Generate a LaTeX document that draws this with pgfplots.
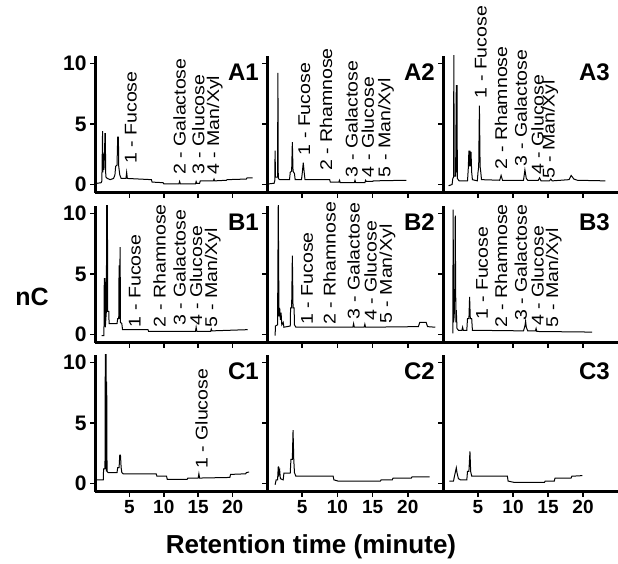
\documentclass[border=0pt]{standalone}
\usepackage{fontspec}
\setmainfont{Liberation Sans}
\usepackage{graphicx}
\usepackage{pgfplots}
\pgfplotsset{compat=1.18}

\newcommand{\labfont}{\fontsize{17}{17}\selectfont}
\newcommand{\pfont}{\fontsize{24}{24}\selectfont\bfseries}

\pgfplotsset{
  panel/.style={
    scale only axis, height=137pt,
    xmin=0, xmax=25, ymin=-0.7, ymax=10.6,
    axis x line*=bottom, axis y line*=left,
    axis line style={line width=3pt, black},
    xtick={5,10,15,20}, ytick={0,5,10},
    xticklabels={}, yticklabels={},
    tick align=outside, major tick length=5pt,
    tick style={line width=1.5pt, black},
    x tick label style={font=\fontsize{19}{19}\selectfont\bfseries},
    y tick label style={font=\fontsize{21}{21}\selectfont\bfseries},
    clip mode=individual, anchor=south west,
  },
  leftcol/.style={yticklabels={0,5,10}},
  botrow/.style={xticklabels={5,10,15,20}},
  trace/.style={black, line width=1pt, no marks, sharp plot},
}
% rotated peak label, starting at the peak
\newcommand{\pk}[3]{\node[rotate=90, anchor=west, inner sep=0pt, font=\labfont] at (axis cs:#1,#2) {\scalebox{1.15}[1]{#3}};}
\newcommand{\pname}[1]{\node[anchor=north east, inner sep=0pt, font=\pfont, xshift=-8pt, yshift=-8pt] at (rel axis cs:1,1) {#1};}

\begin{document}
\begin{tikzpicture}
\useasboundingbox (0,0) rectangle (618pt,564pt);

% ---------- row A ----------
\begin{axis}[panel, leftcol, width=172pt, at={(95pt,371pt)}]
\addplot[trace] coordinates {(0.3,0.1)(0.9,0.15)(1.0,0.3)(1.1,4.4)(1.15,1.0)(1.25,2.5)(1.3,1.2)(1.4,3.0)(1.45,4.2)(1.5,4.2)(1.55,1.0)(1.6,0.6)(1.8,0.5)(2.2,0.4)(2.7,0.5)(2.9,0.8)(3.0,1.5)(3.2,1.6)(3.3,3.9)(3.4,3.9)(3.45,1.5)(3.6,0.8)(3.8,0.5)(4.5,0.5)(4.6,1.0)(4.7,0.5)(8.2,0.4)(8.3,0.2)(9.9,0.15)(10.0,0.05)(12.2,0.05)(12.3,0.25)(12.4,0.05)(14.6,0.05)(14.7,0.25)(14.8,0.1)(15.2,0.1)(15.3,0.3)(17.2,0.3)(17.3,0.45)(17.4,0.3)(19.1,0.35)(19.2,0.4)(22.0,0.45)(22.1,0.55)(22.9,0.55)};
\pk{5.2}{1.7}{1 - Fucose}
\pk{12.3}{0.8}{2 - Galactose}
\pk{15.0}{0.8}{3 - Glucose}
\pk{17.4}{0.8}{4 - Man/Xyl}
\pname{A1}
\end{axis}

\begin{axis}[panel, width=176pt, at={(267pt,371pt)}]
\addplot[trace] coordinates {(0.2,0.05)(1.0,0.1)(1.1,0.3)(1.15,2.8)(1.2,0.6)(1.5,0.6)(1.55,9.2)(1.6,0.5)(1.8,0.4)(3.2,0.4)(3.3,1.0)(3.5,1.1)(3.6,3.5)(3.7,1.1)(3.9,0.9)(4.0,0.4)(4.9,0.4)(5.0,0.9)(5.15,1.8)(5.3,0.9)(5.4,0.4)(8.9,0.4)(9.0,0.2)(10.2,0.2)(10.3,0.35)(10.4,0.15)(12.4,0.15)(12.5,0.35)(12.6,0.15)(13.9,0.15)(14.0,0.35)(14.1,0.25)(15.0,0.25)(15.1,0.3)(19.8,0.35)};
\pk{5.3}{2.4}{1 - Fucose}
\pk{8.4}{1.1}{2 - Rhamnose}
\pk{12.0}{0.6}{3 - Galactose}
\pk{14.3}{0.6}{4 - Glucose}
\pk{16.9}{0.6}{5 - Man/Xyl}
\pname{A2}
\end{axis}

\begin{axis}[panel, width=175pt, at={(443pt,371pt)}]
\addplot[trace] coordinates {(0.8,-0.1)(1.3,0.0)(1.4,0.5)(1.5,0.6)(1.55,10.8)(1.6,0.7)(1.8,0.7)(1.9,8.2)(1.95,1.0)(2.0,8.2)(2.05,0.5)(2.3,0.3)(3.5,0.3)(3.6,1.2)(3.7,2.8)(3.75,1.5)(3.85,2.8)(3.9,1.5)(4.0,2.7)(4.1,1.0)(4.2,0.4)(4.9,0.3)(5.0,1.0)(5.1,1.5)(5.2,6.5)(5.3,1.5)(5.4,1.0)(5.5,0.4)(8.1,0.35)(8.3,0.75)(8.5,0.35)(11.5,0.35)(11.7,1.2)(11.9,0.5)(12.1,0.35)(13.6,0.35)(13.8,0.55)(14.0,0.3)(15.2,0.3)(15.4,0.45)(15.6,0.3)(18.0,0.4)(18.3,0.75)(18.7,0.45)(19.2,0.35)(23.2,0.3)};
\pk{5.4}{7.1}{1 - Fucose}
\pk{8.3}{1.25}{2 - Rhamnose}
\pk{11.1}{1.5}{3 - Galactose}
\pk{13.5}{0.8}{4 - Glucose}
\pk{15.3}{0.45}{5 - Man/Xyl}
\pname{A3}
\end{axis}

% ---------- row B ----------
\begin{axis}[panel, leftcol, width=172pt, at={(95pt,221pt)}]
\addplot[trace] coordinates {(0.95,-0.1)(1.3,-0.1)(1.35,4.6)(1.45,4.6)(1.5,0.6)(1.65,1.9)(1.7,10.8)(1.75,1.9)(1.8,10.8)(1.85,1.9)(2.0,1.9)(2.05,0.9)(3.2,0.9)(3.3,1.3)(3.45,1.3)(3.5,5.7)(3.55,1.3)(3.65,7.2)(3.7,1.0)(3.9,0.9)(4.0,0.4)(7.7,0.4)(7.8,0.25)(14.6,0.25)(14.7,0.6)(14.8,0.25)(16.8,0.25)(16.9,0.45)(17.0,0.3)(22.2,0.4)};
\pk{5.8}{0.6}{1 - Fucose}
\pk{9.4}{0.6}{2 - Rhamnose}
\pk{12.3}{0.7}{3 - Galactose}
\pk{14.7}{0.7}{4 - Glucose}
\pk{17.1}{0.6}{5 - Man/Xyl}
\pname{B1}
\end{axis}

\begin{axis}[panel, width=176pt, at={(267pt,221pt)}]
\addplot[trace] coordinates {(1.15,-0.1)(1.2,0.7)(1.5,0.8)(1.6,10.8)(1.7,1.5)(1.8,2.2)(1.9,1.2)(2.0,1.8)(2.1,0.8)(2.3,1.0)(2.4,0.6)(3.3,0.7)(3.35,2.2)(3.5,2.2)(3.6,6.5)(3.7,2.2)(3.85,2.2)(3.9,0.8)(4.1,0.6)(12.2,0.6)(12.3,0.9)(12.4,0.6)(13.8,0.6)(13.9,0.85)(14.0,0.6)(21.5,0.65)(21.7,1.0)(22.6,1.0)(22.8,0.65)(23.9,0.6)};
\pk{5.7}{0.8}{1 - Fucose}
\pk{8.9}{0.8}{2 - Rhamnose}
\pk{12.3}{1.25}{3 - Galactose}
\pk{14.7}{1.1}{4 - Glucose}
\pk{17.1}{0.9}{5 - Man/Xyl}
\pname{B2}
\end{axis}

\begin{axis}[panel, width=175pt, at={(443pt,221pt)}]
\addplot[trace] coordinates {(1.4,0.1)(1.45,10.3)(1.5,1.0)(1.6,1.5)(1.7,4.4)(1.75,9.8)(1.8,4.4)(1.85,1.0)(1.9,2.0)(2.0,0.5)(2.2,0.35)(2.7,0.35)(2.8,0.6)(2.9,0.35)(3.4,0.35)(3.5,1.3)(3.7,1.3)(3.8,3.1)(3.9,1.3)(4.1,1.3)(4.2,0.35)(11.5,0.3)(11.7,0.7)(11.8,1.1)(11.9,0.6)(12.1,0.3)(13.2,0.3)(13.3,0.5)(13.4,0.25)(21.3,0.2)};
\pk{5.6}{1.25}{1 - Fucose}
\pk{8.3}{0.6}{2 - Rhamnose}
\pk{11.1}{1.1}{3 - Galactose}
\pk{13.5}{0.7}{4 - Glucose}
\pk{15.8}{0.6}{5 - Man/Xyl}
\pname{B3}
\end{axis}

% ---------- row C ----------
\begin{axis}[panel, leftcol, botrow, width=172pt, at={(95pt,72pt)}]
\addplot[trace] coordinates {(0.25,0.3)(1.2,0.3)(1.25,1.2)(1.45,1.2)(1.5,10.8)(1.55,1.2)(1.6,10.8)(1.65,1.0)(1.7,8.4)(1.75,1.0)(1.9,0.9)(3.2,0.9)(3.3,1.3)(3.5,1.3)(3.6,2.35)(3.7,2.35)(3.8,1.3)(3.9,0.9)(4.1,0.8)(8.9,0.8)(9.0,0.6)(10.4,0.6)(10.5,0.35)(13.4,0.35)(13.5,0.45)(15.0,0.45)(15.1,0.8)(15.2,0.45)(19.6,0.5)(19.7,0.75)(21.9,0.8)(22.0,0.9)(22.4,0.95)};
\pk{15.5}{1.2}{1 - Glucose}
\pname{C1}
\end{axis}

\begin{axis}[panel, botrow, width=176pt, at={(267pt,72pt)}]
\addplot[trace] coordinates {(1.15,-0.1)(1.3,0.3)(1.5,0.3)(1.6,1.4)(1.7,0.8)(1.8,1.1)(1.9,0.4)(2.3,0.3)(2.4,0.85)(3.3,0.85)(3.4,2.0)(3.6,2.0)(3.7,4.4)(3.8,2.0)(3.9,0.9)(4.1,0.6)(9.4,0.6)(9.5,0.3)(10.1,0.2)(16.1,0.2)(16.2,0.3)(17.8,0.3)(17.9,0.45)(20.5,0.45)(20.6,0.55)(23.1,0.55)};
\pname{C2}
\end{axis}

\begin{axis}[panel, botrow, width=175pt, at={(443pt,72pt)}]
\addplot[trace] coordinates {(0.9,0.2)(1.5,0.2)(1.6,0.5)(1.9,1.3)(2.0,0.9)(2.2,0.4)(2.5,0.3)(3.4,0.3)(3.5,1.0)(3.7,1.0)(3.85,2.65)(3.95,1.0)(4.1,0.6)(9.2,0.6)(9.3,0.2)(10.1,0.1)(14.5,0.1)(14.6,0.2)(15.9,0.2)(16.0,0.45)(18.3,0.45)(18.4,0.6)(19.9,0.65)};
\pname{C3}
\end{axis}

\node[font=\fontsize{25}{25}\selectfont\bfseries] at (32pt,267pt) {nC};
\node[font=\fontsize{26}{26}\selectfont\bfseries] at (311pt,17pt) {Retention time (minute)};
\end{tikzpicture}
\end{document}
